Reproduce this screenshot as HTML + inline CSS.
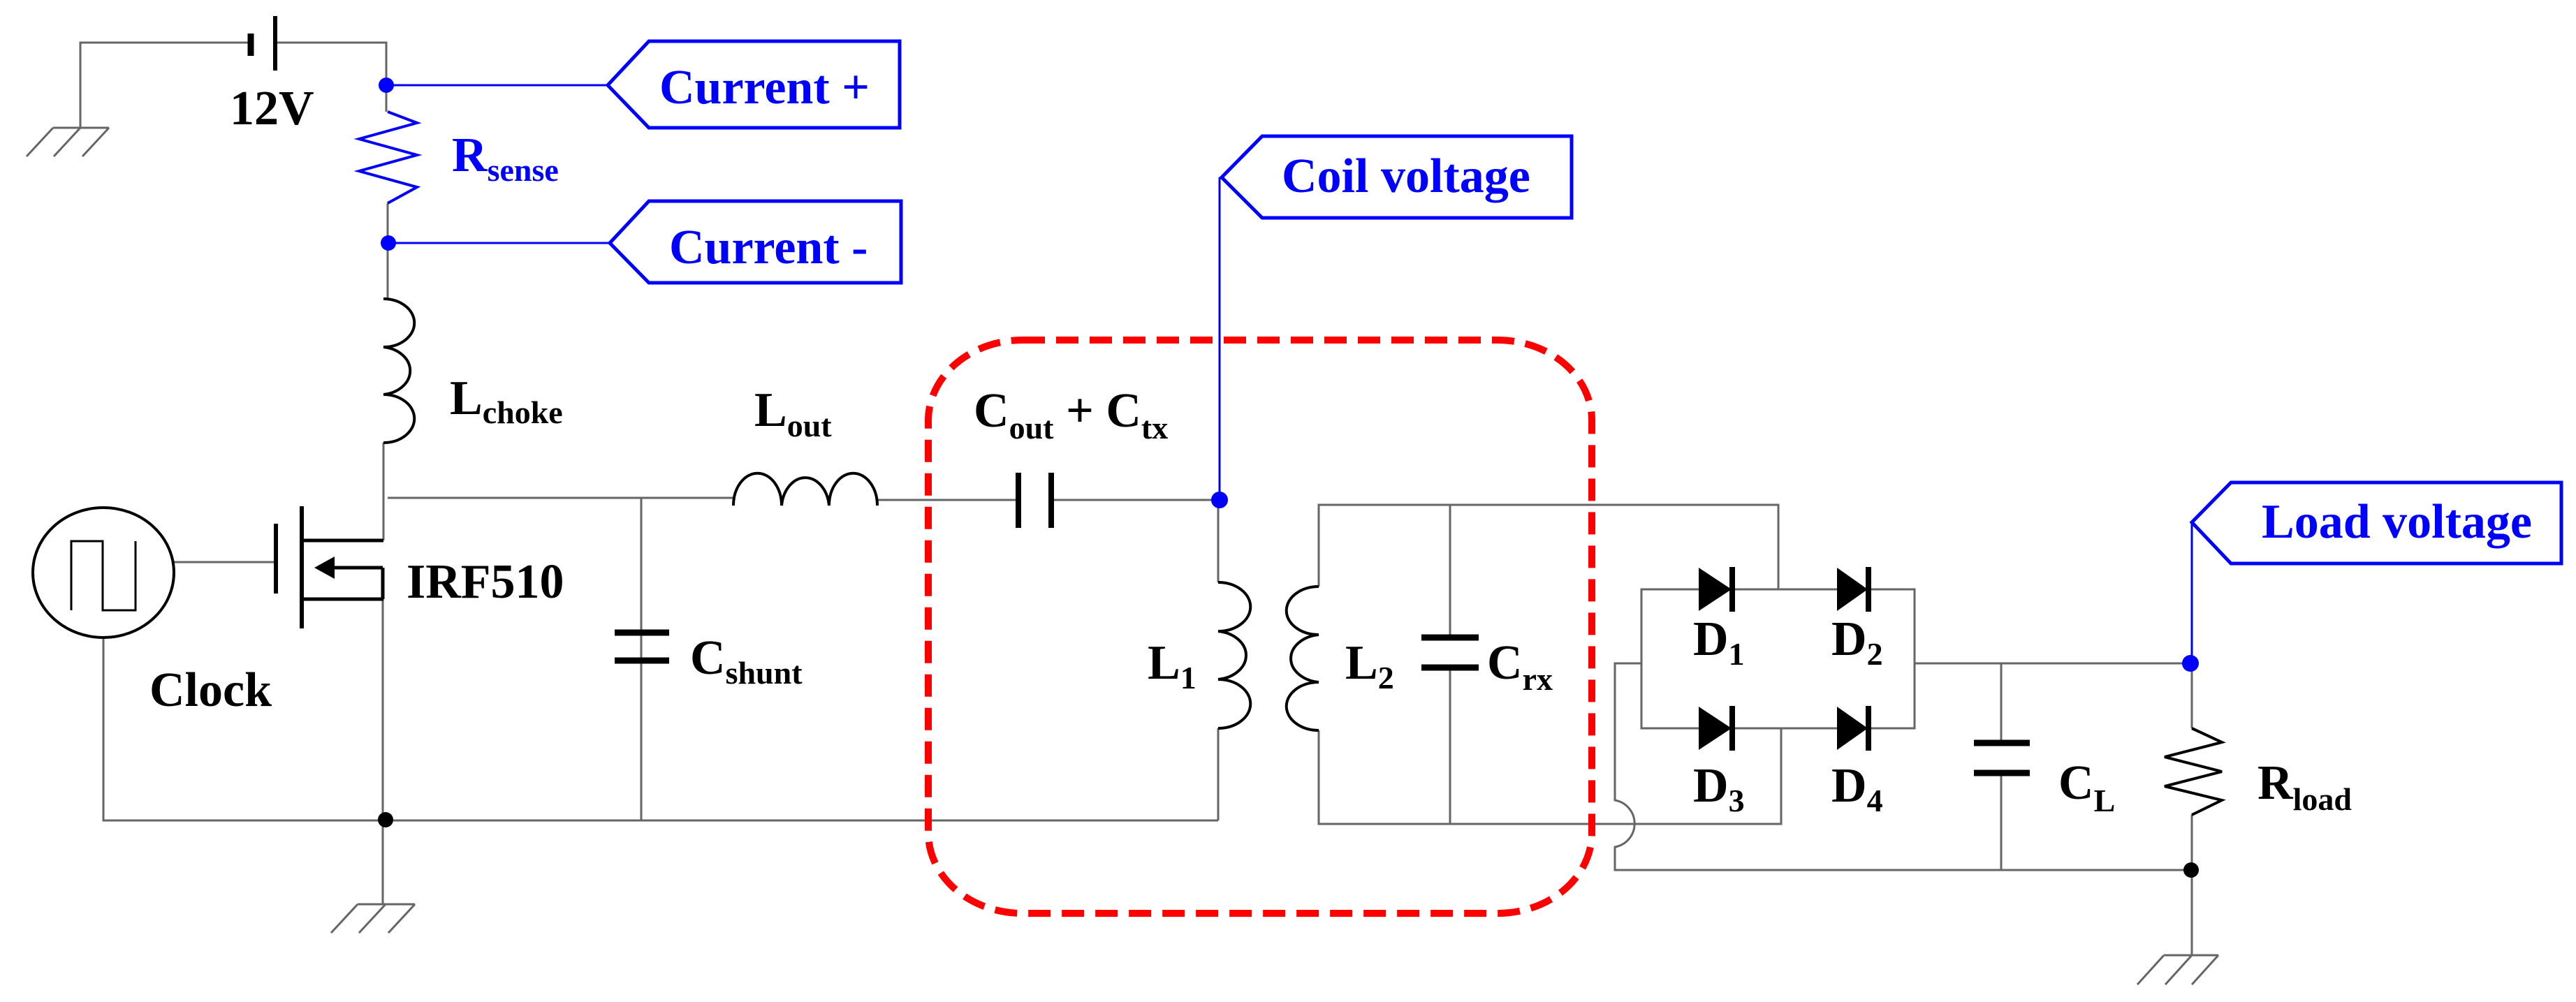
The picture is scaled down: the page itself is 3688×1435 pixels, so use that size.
<!DOCTYPE html>
<html><head><meta charset="utf-8"><style>
html,body{margin:0;padding:0;background:#fff;}
svg{display:block;}
text{font-family:"Liberation Serif","Times New Roman",Times,serif;font-weight:bold;}
</style></head><body>
<svg width="3688" height="1435" viewBox="0 0 3688 1435" xmlns="http://www.w3.org/2000/svg">
<g fill="none" stroke="#666" stroke-width="3">
<path d="M359 61 H115 V183"/>
<path d="M394 61 H553 V160"/>
<path d="M76 183 H156 M76 183 L38 224 M115 183 L77 224 M156 183 L118 224"/>
<path d="M555 291 V428"/>
<path d="M549 634 V774"/>
<path d="M555 713 H1050"/>
<path d="M918 713 V1175"/>
<path d="M249 805 H395"/>
<path d="M548 813 V1295"/>
<path d="M148 913 V1175 H1744"/>
<path d="M512 1295 H594 M512 1295 L474 1336 M552 1295 L514 1336 M594 1295 L556 1336"/>
<path d="M1256 716 H1458 M1505 716 H1746"/>
<path d="M1744 716 V834 M1744 1043 V1175"/>
<path d="M1888 840 V723 H2546 V844"/>
<path d="M1888 1046 V1180 H2550 V1043"/>
<path d="M2076 723 V913 M2076 956 V1180"/>
<path d="M2350 844 H2741 V1043 H2350 Z"/>
<path d="M2350 950 H2312 V1146 A 34 34 0 0 1 2312 1213 V1246 H3138"/>
<path d="M2741 950 H3138"/>
<path d="M2865 950 V1064 M2865 1107 V1246"/>
<path d="M3138 950 V1043 M3138 1167 V1368"/>
<path d="M3098 1368 H3176 M3098 1368 L3060 1410 M3138 1368 L3100 1410 M3176 1368 L3138 1410"/>
</g>
<g fill="none" stroke="#000" stroke-width="4">
<path d="M359 48 V80" stroke-width="9"/>
<path d="M394 23 V101" stroke-width="6"/>
<path d="M549 428 A 44 34.3 0 0 1 549 497 A 44 34.3 0 0 1 549 565 A 44 34.3 0 0 1 549 634"/>
<path d="M1050 724 A 34.3 46 0 0 1 1119 724 A 34.3 46 0 0 1 1187 724 A 34.3 46 0 0 1 1256 724"/>
<path d="M1744 834 A 46 34.8 0 0 1 1744 904 A 46 34.8 0 0 1 1744 973 A 46 34.8 0 0 1 1744 1043"/>
<path d="M1888 840 A 46 34.3 0 0 0 1888 909 A 46 34.3 0 0 0 1888 977 A 46 34.3 0 0 0 1888 1046"/>
<path d="M1458 677 V756 M1505 677 V756" stroke-width="8"/>
<path d="M880 906 H958 M880 946 H958" stroke-width="9"/>
<path d="M2035 913 H2117 M2035 956 H2117" stroke-width="9"/>
<path d="M2826 1064 H2906 M2826 1107 H2906" stroke-width="9"/>
<path d="M3138 1043 L3181 1063 L3099 1084 L3181 1105 L3099 1126 L3181 1146 L3138 1167"/>
<path d="M395 750 V850 M432 725 V900" stroke-width="6"/>
<path d="M432 774 H549 M432 858 H549 M548 813 V858 M470 813 H548" stroke-width="5"/>
<ellipse cx="148" cy="820" rx="101" ry="93" stroke-width="4"/>
<path d="M102 874 V775 H147 V874 H194 V775" stroke-width="3"/>
</g>
<polygon points="450,813 479,797 479,829" fill="#000"/>
<g fill="#000">
<polygon points="2432,813 2432,875 2479,844"/><rect x="2476" y="812" width="8" height="64"/>
<polygon points="2630,813 2630,875 2674,844"/><rect x="2671" y="812" width="8" height="64"/>
<polygon points="2432,1012 2432,1074 2479,1043"/><rect x="2476" y="1011" width="8" height="64"/>
<polygon points="2630,1012 2630,1074 2674,1043"/><rect x="2671" y="1011" width="8" height="64"/>
<circle cx="552" cy="1174" r="11"/>
<circle cx="3137" cy="1246" r="11"/>
</g>
<path d="M555 160 L597 176 L514 199 L597 222 L514 245 L597 268 L555 291" fill="none" stroke="#00f" stroke-width="4"/>
<g fill="none" stroke="#00f" stroke-width="3">
<path d="M553 122 H870 M556 348 H873"/>
<path d="M870 122 L929 59 H1288 V183 H929 Z" stroke-width="5"/>
<path d="M873 348 L929 288 H1290 V405 H929 Z" stroke-width="5"/>
<path d="M1746 716 V254"/>
<path d="M1749 254 L1807 195 H2250 V312 H1807 Z" stroke-width="5"/>
<path d="M3138 950 V748"/>
<path d="M3138 748 L3194 691 H3667 V807 H3194 Z" stroke-width="5"/>
</g>
<g fill="#00f"><circle cx="553" cy="122" r="11"/><circle cx="556" cy="348" r="11"/><circle cx="1746" cy="716" r="12"/><circle cx="3136" cy="950" r="12"/></g>
<rect x="1329" y="487" width="950" height="821" rx="135" ry="115" fill="none" stroke="#f00" stroke-width="10" stroke-dasharray="32 16"/>
<g font-size="70" fill="#00f" font-family="Liberation Serif, serif" font-weight="bold">
<text x="944" y="148">Current +</text>
<text x="958" y="377">Current -</text>
<text x="1835" y="275">Coil voltage</text>
<text x="3238" y="770">Load voltage</text>
<text x="647" y="245">R<tspan font-size="46" dy="14">sense</tspan></text>
</g>
<g font-size="70" fill="#000" font-family="Liberation Serif, serif" font-weight="bold">
<text x="329" y="178">12V</text>
<text x="644" y="593">L<tspan font-size="46" dy="13">choke</tspan></text>
<text x="1080" y="610">L<tspan font-size="46" dy="15">out</tspan></text>
<text x="1394" y="611">C<tspan font-size="46" dy="17">out</tspan><tspan dy="-17"> + C</tspan><tspan font-size="46" dy="17">tx</tspan></text>
<text x="582" y="856">IRF510</text>
<text x="214" y="1011">Clock</text>
<text x="988" y="965">C<tspan font-size="46" dy="14">shunt</tspan></text>
<text x="1643" y="972">L<tspan font-size="46" dy="14">1</tspan></text>
<text x="1926" y="972">L<tspan font-size="46" dy="14">2</tspan></text>
<text x="2129" y="972">C<tspan font-size="46" dy="16">rx</tspan></text>
<text x="2424" y="938">D<tspan font-size="46" dy="14">1</tspan></text>
<text x="2622" y="938">D<tspan font-size="46" dy="14">2</tspan></text>
<text x="2424" y="1148">D<tspan font-size="46" dy="14">3</tspan></text>
<text x="2622" y="1148">D<tspan font-size="46" dy="14">4</tspan></text>
<text x="2947" y="1144">C<tspan font-size="46" dy="18">L</tspan></text>
<text x="3232" y="1144">R<tspan font-size="46" dy="16">load</tspan></text>
</g>
</svg>
</body></html>
